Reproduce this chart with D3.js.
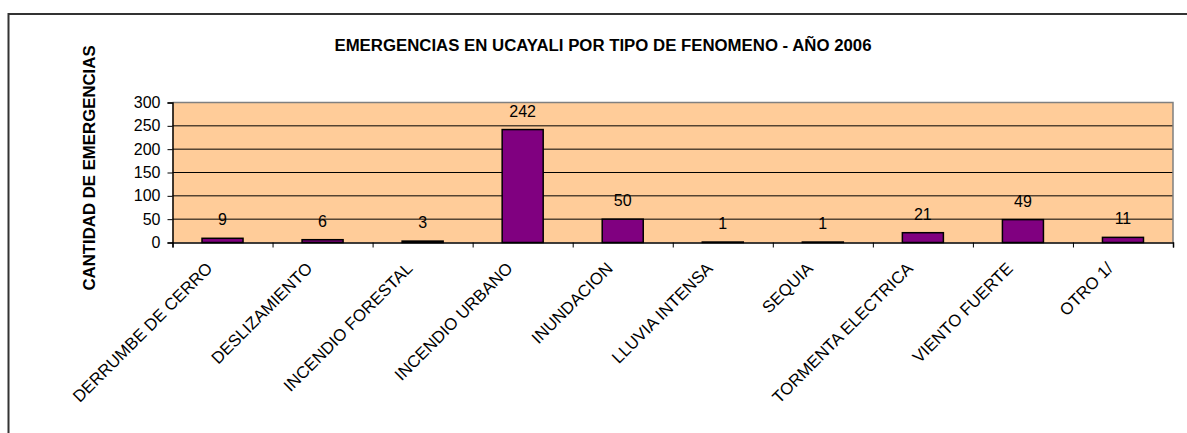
<!DOCTYPE html>
<html>
<head>
<meta charset="utf-8">
<script src="https://cdn.jsdelivr.net/npm/d3@7"></script>
<style>
  body { margin: 0; background: #fff; }
  text { font-family: "Liberation Sans", Arial, sans-serif; fill: #000; }
</style>
</head>
<body>
<div id="chart"></div>
<script>
var categories = ["DERRUMBE DE CERRO", "DESLIZAMIENTO", "INCENDIO FORESTAL", "INCENDIO URBANO",
    "INUNDACION", "LLUVIA INTENSA", "SEQUIA", "TORMENTA ELECTRICA", "VIENTO FUERTE", "OTRO 1/"];
var emergencias = [9, 6, 3, 242, 50, 1, 1, 21, 49, 11];
var yTicks = [0, 50, 100, 150, 200, 250, 300];

var W = 1187, H = 433;
var margin = {top: 102.5, right: 14, bottom: 190.5, left: 172.5},
    width = W - margin.left - margin.right,
    height = H - margin.top - margin.bottom;

var svg = d3.select("#chart").append("svg")
    .attr("width", W)
    .attr("height", H);

// outer chart frame
svg.append("rect")
    .attr("x", 8.5).attr("y", 14)
    .attr("width", 1300).attr("height", 600)
    .attr("fill", "none")
    .attr("stroke", "#333")
    .attr("stroke-width", 2);

svg.append("text")
    .attr("x", 603).attr("y", 51)
    .attr("text-anchor", "middle")
    .style("font-weight", "bold")
    .style("font-size", "16.8px")
    .text("EMERGENCIAS EN UCAYALI POR TIPO DE FENOMENO - AÑO 2006");

svg.append("text")
    .attr("transform", "translate(95,168) rotate(-90)")
    .attr("text-anchor", "middle")
    .style("font-weight", "bold")
    .style("font-size", "16.8px")
    .text("CANTIDAD DE EMERGENCIAS");

var g = svg.append("g")
    .attr("transform", "translate(" + margin.left + "," + margin.top + ")");

var x = d3.scaleBand().domain(categories).range([0, width]).paddingInner(0.59).paddingOuter(0.295);
var y = d3.scaleLinear().domain([0, 300]).range([height, 0]);

// plot area
g.append("rect")
    .attr("width", width).attr("height", height)
    .attr("fill", "#FFCC99");

// gridlines
g.selectAll("line.grid")
    .data(yTicks.filter(function(d) { return d > 0 && d < 300; }))
    .enter().append("line")
    .attr("class", "grid")
    .attr("x1", 0).attr("x2", width)
    .attr("y1", function(d) { return y(d); })
    .attr("y2", function(d) { return y(d); })
    .attr("stroke", "#000")
    .attr("stroke-width", 1);

// grey plot border top/right
g.append("path")
    .attr("d", "M0," + y(300) + "H" + width + "V" + height)
    .attr("fill", "none")
    .attr("stroke", "#808080")
    .attr("stroke-width", 1.5);

// bars
g.selectAll("rect.bar")
    .data(emergencias)
    .enter().append("rect")
    .attr("class", "bar")
    .attr("x", function(d, i) { return x(categories[i]); })
    .attr("y", function(d) { return y(d); })
    .attr("width", x.bandwidth())
    .attr("height", function(d) { return height - y(d); })
    .attr("fill", "#800080")
    .attr("stroke", "#000")
    .attr("stroke-width", 1.5);

// value labels
g.selectAll("text.val")
    .data(emergencias)
    .enter().append("text")
    .attr("class", "val")
    .attr("x", function(d, i) { return x(categories[i]) + x.bandwidth() / 2; })
    .attr("y", function(d) { return y(d) - 13; })
    .attr("text-anchor", "middle")
    .style("font-size", "16px")
    .text(function(d) { return d; });

// y axis
var yAxis = d3.axisLeft(y).tickValues(yTicks).tickSize(5).tickPadding(7);
var ya = g.append("g").call(yAxis);
ya.select(".domain").attr("stroke", "#000").attr("stroke-width", 1.5);
ya.selectAll(".tick line").attr("stroke", "#000");
ya.selectAll("text").style("font-size", "16px").attr("font-family", null);

// x axis: ticks at category boundaries
var xb = d3.scaleLinear().domain([0, categories.length]).range([0, width]);
var xAxis = d3.axisBottom(xb).ticks(categories.length).tickSize(5).tickFormat("");
var xa = g.append("g").attr("transform", "translate(0," + height + ")").call(xAxis);
xa.select(".domain").attr("stroke", "#000").attr("stroke-width", 1.5);
xa.selectAll(".tick line").attr("stroke", "#000");

// category labels
g.selectAll("text.cat")
    .data(categories)
    .enter().append("text")
    .attr("class", "cat")
    .attr("transform", function(d) {
        return "translate(" + (x(d) + x.bandwidth() / 2 - 9) + "," + (height + 27) + ") rotate(-45)";
    })
    .attr("text-anchor", "end")
    .style("font-size", "16.8px")
    .text(function(d) { return d; });
</script>
</body>
</html>
